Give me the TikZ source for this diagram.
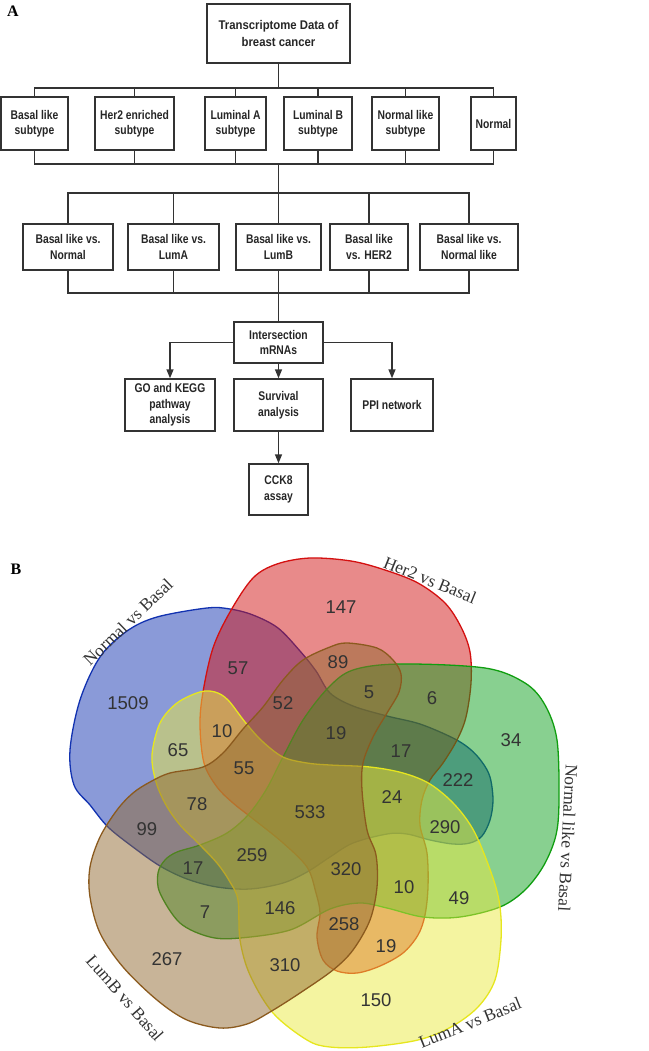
\documentclass[tikz,border=0pt]{standalone}
\usepackage{fontspec}
\setmainfont{Liberation Serif}
\newfontfamily\boxfont[FakeStretch=0.82]{Liberation Sans}
\newfontfamily\topfont[FakeStretch=0.9]{Liberation Sans}
\newfontfamily\numfont{Liberation Sans}
\usetikzlibrary{arrows.meta}
\definecolor{ink}{HTML}{333333}
\definecolor{vblue}{HTML}{1535B1}
\definecolor{vbluel}{HTML}{1232B0}
\definecolor{vred}{HTML}{D11515}
\definecolor{vredl}{HTML}{D41010}
\definecolor{vgreen}{HTML}{11A121}
\definecolor{vgreenl}{HTML}{109E10}
\definecolor{vyellow}{HTML}{E9E941}
\definecolor{vyellowl}{HTML}{E6E61E}
\definecolor{vbrown}{HTML}{916931}
\definecolor{vbrownl}{HTML}{8B5A1E}
\begin{document}
\begin{tikzpicture}[x=1pt,y=-1pt,
  box/.style={draw=ink, line width=1.4pt, fill=white, inner sep=0pt, align=center, text=black!85,
    font=\boxfont\bfseries\fontsize{12.6}{15.5}\selectfont},
  conn/.style={draw=ink, line width=1.4pt},
  arr/.style={conn, -{Triangle[length=9pt,width=7pt]}},
  num/.style={font=\numfont\fontsize{18.5}{20}\selectfont, text=ink, inner sep=0pt},
  setlab/.style={font=\fontsize{17.5}{20}\selectfont, text=black!80, inner sep=0pt},
  panel/.style={font=\bfseries\fontsize{16}{18}\selectfont, inner sep=0pt},
  vset/.style={fill opacity=0.5, line width=1.3pt}]
\useasboundingbox (0,0) rectangle (648,1051);

% ---------------- Panel A ----------------
\node[panel] (lA) at (13,11) {A};
\node[box, minimum width=143pt, minimum height=59pt, font=\topfont\bfseries\fontsize{12.6}{17}\selectfont] (top) at (278.5,33.5) {Transcriptome Data of\\breast cancer};

\node[box, minimum width=67pt, minimum height=53pt] (b1) at (34.5,123.5) {Basal like\\subtype};
\node[box, minimum width=79pt, minimum height=53pt] (b2) at (134.5,123.5) {Her2 enriched\\subtype};
\node[box, minimum width=61pt, minimum height=53pt] (b3) at (235.5,123.5) {Luminal A\\subtype};
\node[box, minimum width=68pt, minimum height=53pt] (b4) at (318,123.5) {Luminal B\\subtype};
\node[box, minimum width=67pt, minimum height=53pt] (b5) at (405.5,123.5) {Normal like\\subtype};
\node[box, minimum width=45pt, minimum height=53pt] (b6) at (493.5,123.5) {Normal};

\coordinate (j1) at (278.5,88);
\coordinate (j2) at (278.5,164);
\draw[conn] (top.south) -- (j1);
\foreach \b in {b1,b2,b3,b4,b5,b6} {
  \draw[conn] (\b.north) |- (j1);
  \draw[conn] (\b.south) |- (j2);
}

\node[box, minimum width=90pt, minimum height=46pt] (c1) at (68,247) {Basal like vs.\\Normal};
\node[box, minimum width=91pt, minimum height=46pt] (c2) at (173.5,247) {Basal like vs.\\LumA};
\node[box, minimum width=85pt, minimum height=46pt] (c3) at (278.5,247) {Basal like vs.\\LumB};
\node[box, minimum width=78pt, minimum height=46pt] (c4) at (369,247) {Basal like\\vs. HER2};
\node[box, minimum width=98pt, minimum height=46pt] (c5) at (469,247) {Basal like vs.\\Normal like};

\coordinate (j3) at (278.5,193);
\coordinate (j4) at (278.5,293);
\draw[conn] (j2) -- (j3);
\foreach \c in {c1,c2,c3,c4,c5} {
  \draw[conn] (\c.north) |- (j3);
  \draw[conn] (\c.south) |- (j4);
}

\node[box, minimum width=89pt, minimum height=41pt] (inter) at (278.5,342.5) {Intersection\\mRNAs};
\draw[conn] (j4) -- (inter.north);

\node[box, minimum width=90pt, minimum height=52pt] (go) at (170,405) {GO and KEGG\\pathway\\analysis};
\node[box, minimum width=89pt, minimum height=52pt] (surv) at (278.5,405) {Survival\\analysis};
\node[box, minimum width=82pt, minimum height=52pt] (ppi) at (392,405) {PPI network};
\node[box, minimum width=59pt, minimum height=51pt] (cck) at (278.5,489.5) {CCK8\\assay};

\draw[arr] (inter.west) -| (go.north);
\draw[arr] (inter.east) -| (ppi.north);
\draw[arr] (inter.south) -- (surv.north);
\draw[arr] (surv.south) -- (cck.north);

% ---------------- Panel B ----------------
\node[panel] (lB) at (16,569) {B};

% Normal vs Basal (blue)
\path[vset, fill=vblue, draw=vbluel] plot[smooth cycle, tension=0.55] coordinates {
 (207,608) (157,617) (127,631) (100,657) (80,700) (70,750) (74,785) (90,805) (108,827)
 (133,847) (160,866) (187,879) (217,887) (250,889) (283,883) (307,872) (330,857) (353,843)
 (387,834) (407,834) (430,840) (453,844) (470,843) (482,836) (490,820) (493,800) (490,777)
 (482,762) (470,749) (453,738) (420,724) (387,716) (353,706) (330,693) (316,671) (300,651)
 (278,628) (253,615) (230,609)};
% Her2 vs Basal (red)
\path[vset, fill=vred, draw=vredl] plot[smooth cycle, tension=0.55] coordinates {
 (203,692) (213,648) (230,612) (253,578) (277,564) (310,558) (351,561) (385,570) (418,583)
 (445,603) (461,627) (470,652) (471,683) (466,717) (457,740) (443,763) (430,780) (422,800)
 (420,825) (427,853) (428,887) (425,915) (418,935) (403,953) (380,966) (357,973) (337,971)
 (323,960) (317,937) (320,913) (316,893) (307,867) (282,842) (252,818) (233,803) (217,787)
 (204,763) (200,725)};
% Normal like vs Basal (green)
\path[vset, fill=vgreen, draw=vgreenl] plot[smooth cycle, tension=0.55] coordinates {
 (353,670) (400,664) (485,668) (525,683) (545,705) (557,740) (559,800) (556,835) (544,865)
 (525,890) (500,907) (460,917) (423,917) (387,908) (360,903) (330,909) (290,930) (240,938)
 (210,937) (180,923) (160,893) (158,873) (165,860) (177,852) (200,845) (227,833) (248,815)
 (266,790) (283,757) (303,720) (328,688)};
% LumA vs Basal (yellow)
\path[vset, fill=vyellow, draw=vyellowl] plot[smooth cycle, tension=0.55] coordinates {
 (152,755) (160,723) (177,703) (200,692) (215,692) (228,700) (245,722) (262,741) (283,757)
 (307,763) (330,765) (370,767) (403,773) (430,784) (455,805) (475,833) (493,878) (500,907)
 (501,940) (495,980) (478,1007) (451,1027) (418,1040) (368,1047) (330,1047) (307,1040)
 (273,1013) (250,975) (240,940) (238,900) (230,882) (217,863) (197,842) (180,825) (166,805)
 (156,782)};
% LumB vs Basal (brown)
\path[vset, fill=vbrown, draw=vbrownl] plot[smooth cycle, tension=0.55] coordinates {
 (117,810) (133,793) (150,782) (170,773) (203,767) (223,753) (243,729) (263,707) (283,680)
 (303,660) (330,647) (347,643) (377,648) (393,660) (401,674) (399,692) (387,713) (373,737)
 (363,763) (362,790) (367,830) (376,855) (377,887) (370,920) (353,950) (333,970) (300,993)
 (270,1012) (247,1024) (220,1028) (187,1020) (157,1000) (123,967) (100,933) (90,897)
 (90,867) (100,837)};

% numbers
\node[num] (n1509) at (128,703) {1509};
\node[num] (n57) at (238,668) {57};
\node[num] (n147) at (341,607) {147};
\node[num] (n89) at (338,662) {89};
\node[num] (n52) at (283,703) {52};
\node[num] (n5) at (369,692) {5};
\node[num] (n6) at (432,698) {6};
\node[num] (n34) at (511,740) {34};
\node[num] (n10a) at (222,731) {10};
\node[num] (n65) at (178,750) {65};
\node[num] (n19a) at (336,733) {19};
\node[num] (n17a) at (401,751) {17};
\node[num] (n222) at (458,780) {222};
\node[num] (n55) at (244,768) {55};
\node[num] (n78) at (197,804) {78};
\node[num] (n533) at (310,812) {533};
\node[num] (n24) at (392,797) {24};
\node[num] (n290) at (445,827) {290};
\node[num] (n99) at (147,829) {99};
\node[num] (n259) at (252,855) {259};
\node[num] (n17b) at (193,868) {17};
\node[num] (n320) at (346,869) {320};
\node[num] (n10b) at (404,887) {10};
\node[num] (n49) at (459,898) {49};
\node[num] (n7) at (205,912) {7};
\node[num] (n146) at (280,908) {146};
\node[num] (n258) at (344,924) {258};
\node[num] (n19b) at (386,946) {19};
\node[num] (n267) at (167,959) {267};
\node[num] (n310) at (285,965) {310};
\node[num] (n150) at (376,1000) {150};

% set labels
\node[setlab, rotate=44] (lnorm) at (128,622) {Normal vs Basal};
\node[setlab, rotate=-22] (lher2) at (430,580) {Her2 vs Basal};
\node[setlab, rotate=-93] (lnl) at (568,838) {Normal like vs Basal};
\node[setlab, rotate=22] (lluma) at (470,1023) {LumA vs Basal};
\node[setlab, rotate=-49] (llumb) at (125,998) {LumB vs Basal};
\end{tikzpicture}
\end{document}
